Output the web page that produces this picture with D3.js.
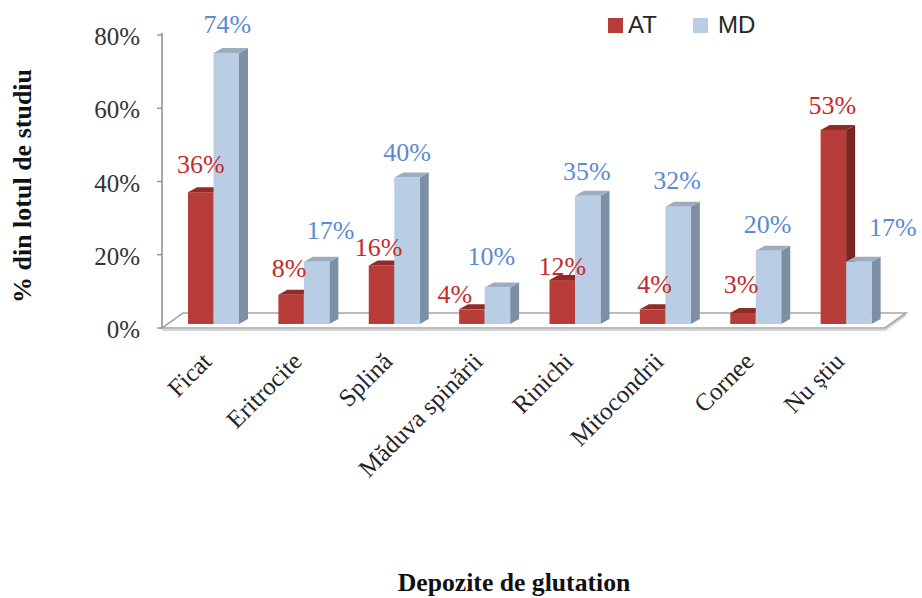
<!DOCTYPE html>
<html>
<head>
<meta charset="utf-8">
<script src="https://cdn.jsdelivr.net/npm/d3@7"></script>
<style>
  html, body { margin: 0; padding: 0; background: #ffffff; }
  svg { display: block; }
</style>
</head>
<body>
<div id="chart"></div>
<script>
// Glutathione storage sites named by each study group (AT, MD), % of group
const categories = ["Ficat", "Eritrocite", "Splină", "Măduva spinării", "Rinichi", "Mitocondrii", "Cornee", "Nu știu"];
const seriesNames = ["AT", "MD"];
const atValues = [36, 8, 16, 4, 12, 4, 3, 53];
const mdValues = [74, 17, 40, 10, 35, 32, 20, 17];
const yTicks = [0, 20, 40, 60, 80];
const yTitle = "% din lotul de studiu";
const xTitle = "Depozite de glutation";

const W = 922, H = 598;
const svg = d3.select("#chart").append("svg").attr("width", W).attr("height", H);

const serif = "'Liberation Serif', 'Times New Roman', Times, serif";

// plot frame
const left = 162, right = 885, floorY = 328;
const floorDepth = { dx: 21, dy: -15 };   // receding floor
const barDepth = { dx: 9, dy: -5 };       // receding bar faces
const barLift = 4;                        // bars stand mid-way into the floor
const barW = 25.5, barOffset = 26;

const x = d3.scaleBand().domain(categories).range([left, right]).paddingInner(0).paddingOuter(0);
const y = d3.scaleLinear().domain([0, 80]).range([floorY, 35]);

const palette = {
  AT: { front: "#b83d39", side: "#7a2522", top: "#8e2c29", label: "#c42a2a", legend: "#b83d39" },
  MD: { front: "#b9cde5", side: "#7d8fa4", top: "#9cadc0", label: "#5c8ad2", legend: "#b9cde5" }
};

// floor slab
const fl = [
  [left, floorY], [right, floorY],
  [right + floorDepth.dx, floorY + floorDepth.dy],
  [left + floorDepth.dx, floorY + floorDepth.dy]
];
svg.append("path")
  .attr("d", `M${left},${floorY + 2}L${right},${floorY + 2}L${right + floorDepth.dx},${floorY + floorDepth.dy + 2}`)
  .attr("fill", "none").attr("stroke", "#d4d4d4").attr("stroke-width", 2);
svg.append("polygon")
  .attr("points", fl.map(p => p.join(",")).join(" "))
  .attr("fill", "#ffffff").attr("stroke", "#a6a6a6").attr("stroke-width", 1.6);

// y axis
const yAxisG = svg.append("g");
yAxisG.append("line")
  .attr("x1", left).attr("x2", left).attr("y1", y(80) - 2).attr("y2", floorY)
  .attr("stroke", "#8c8c8c").attr("stroke-width", 1.5);
yAxisG.selectAll("line.tick").data(yTicks).join("line")
  .attr("class", "tick")
  .attr("x1", left - 5).attr("x2", left).attr("y1", d => y(d)).attr("y2", d => y(d))
  .attr("stroke", "#8c8c8c").attr("stroke-width", 1.3);
yAxisG.selectAll("text").data(yTicks).join("text")
  .attr("x", 140).attr("y", d => y(d) + 10)
  .attr("text-anchor", "end")
  .attr("font-family", serif)
  .attr("font-size", 25).attr("fill", "#333333")
  .text(d => d + "%");

// bars
const rows = categories.map((c, i) => ({ cat: c, values: { AT: atValues[i], MD: mdValues[i] } }));
const barG = svg.append("g");
rows.forEach(row => {
  seriesNames.forEach((s, si) => {
    const v = row.values[s];
    const x0 = x(row.cat) + barOffset + si * barW;
    const x1 = x0 + barW;
    const yb = y(0) - barLift;
    const yt = y(v) - barLift;
    const c = palette[s];
    const g = barG.append("g");
    g.append("polygon")
      .attr("points", [[x1, yb], [x1 + barDepth.dx, yb + barDepth.dy], [x1 + barDepth.dx, yt + barDepth.dy], [x1, yt]].map(p => p.join(",")).join(" "))
      .attr("fill", c.side);
    g.append("polygon")
      .attr("points", [[x0, yt], [x1, yt], [x1 + barDepth.dx, yt + barDepth.dy], [x0 + barDepth.dx, yt + barDepth.dy]].map(p => p.join(",")).join(" "))
      .attr("fill", c.top);
    g.append("rect")
      .attr("x", x0).attr("y", yt).attr("width", barW).attr("height", yb - yt)
      .attr("fill", c.front);
  });
});

// value labels, with small shifts where neighbouring labels would collide
const labelShift = {
  AT: [[0, -19], [-2, -18], [-3, -9], [-17, -6], [0, -5], [2, -16], [-2, -20], [-1, -16]],
  MD: [[1, -20], [14, -23], [0, -17], [-6, -22], [-1, -16], [-1, -18], [-1, -18], [34, -26]]
};
const labelG = svg.append("g");
rows.forEach((row, i) => {
  seriesNames.forEach((s, si) => {
    const v = row.values[s];
    const cx = x(row.cat) + barOffset + si * barW + barW / 2;
    const yt = y(v) - barLift;
    const [dx, dy] = labelShift[s][i];
    labelG.append("text")
      .attr("x", cx + dx).attr("y", yt + dy)
      .attr("text-anchor", "middle")
      .attr("font-family", serif)
      .attr("font-size", 26).attr("fill", palette[s].label)
      .text(v + "%");
  });
});

// category labels
svg.append("g").selectAll("text").data(categories).join("text")
  .attr("transform", d => `translate(${x(d) + 51},${363}) rotate(-45)`)
  .attr("text-anchor", "end")
  .attr("font-family", serif)
  .attr("font-size", 25).attr("fill", "#262626")
  .text(d => d);

// axis titles
svg.append("text")
  .attr("transform", "translate(31,186) rotate(-90)")
  .attr("text-anchor", "middle")
  .attr("font-family", serif)
  .attr("font-weight", "bold").attr("font-size", 26).attr("fill", "#111111")
  .text(yTitle);
svg.append("text")
  .attr("x", 514).attr("y", 591)
  .attr("text-anchor", "middle")
  .attr("font-family", serif)
  .attr("font-weight", "bold").attr("font-size", 25.7).attr("fill", "#111111")
  .text(xTitle);

// legend
const legendPos = [{ sx: 608, tx: 628 }, { sx: 693, tx: 718 }];
const legend = svg.append("g").selectAll("g").data(seriesNames).join("g");
legend.append("rect")
  .attr("x", (d, i) => legendPos[i].sx).attr("y", 18).attr("width", 15).attr("height", 15)
  .attr("fill", d => palette[d].legend);
legend.append("text")
  .attr("x", (d, i) => legendPos[i].tx).attr("y", 33)
  .attr("font-family", "'Liberation Sans', Arial, sans-serif")
  .attr("font-size", 24).attr("fill", "#262626")
  .text(d => d);
</script>
</body>
</html>
